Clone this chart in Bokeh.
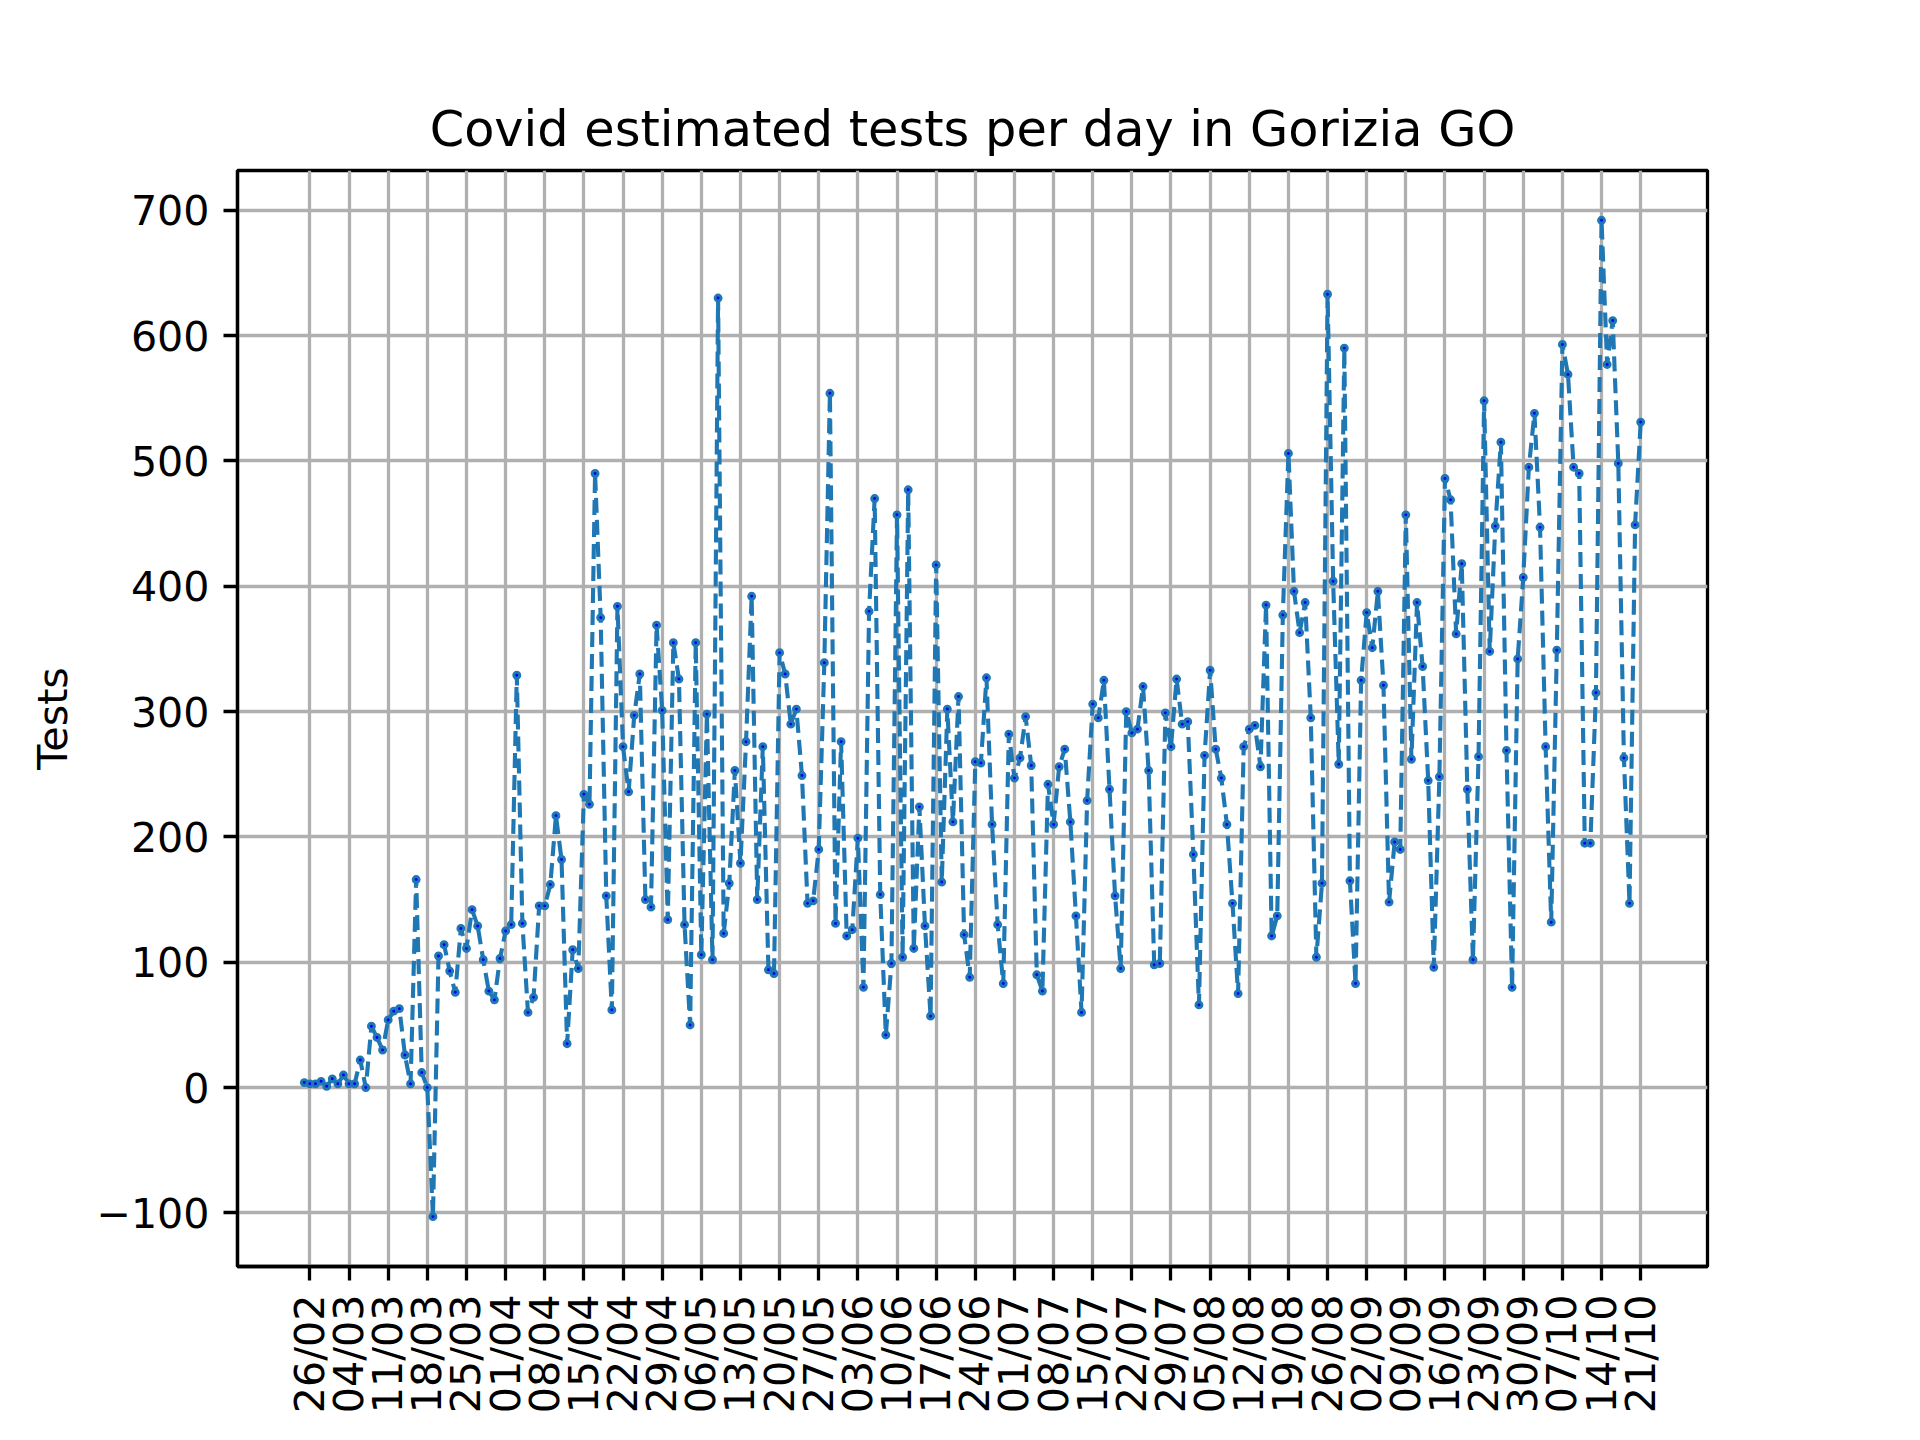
import pandas as pd
from bokeh.plotting import figure
from bokeh.models import Range1d, FixedTicker, DatetimeTickFormatter, CustomJSTickFormatter
from bokeh.embed import file_html
from bokeh.resources import INLINE
import math

# daily estimated tests, first value is 25/02/2020
first_day = "2020-02-25"
tests = [
    4, 3, 3, 5, 1, 7, 3, 10, 3, 3, 22, 0, 49, 40, 30, 54, 61, 63, 26, 3, 166, 12, 0, -103, 105, 114,
    93, 76, 127, 111, 142, 129, 102, 77, 70, 103, 125, 130, 329, 131, 60, 72, 145, 145, 162, 217, 182, 35, 110, 95,
    234, 226, 490, 375, 153, 62, 384, 272, 236, 297, 330, 150, 144, 369, 301, 134, 355, 326, 130, 50, 355, 106, 298, 102,
    630, 123, 163, 253, 179, 276, 392, 150, 272, 94, 91, 347, 330, 290, 302, 249, 147, 149, 190, 339, 554, 131, 276, 121, 126,
    199, 80, 380, 470, 154, 42, 99, 457, 104, 477, 111, 224, 129, 57, 417, 164, 302, 212, 312, 122, 88, 260, 259, 327,
    210, 130, 83, 282, 247, 263, 296, 257, 90, 77, 242, 210, 256, 270, 212, 137, 60, 229, 306, 295, 325, 238, 153, 95,
    300, 283, 286, 320, 253, 98, 99, 299, 272, 326, 290, 292, 186, 66, 265, 333, 270, 247, 210, 147, 75, 272, 286, 289,
    256, 385, 121, 137, 377, 506, 396, 363, 387, 295, 104, 163, 633, 404, 258, 590, 165, 83, 325, 379, 351, 396, 321, 148,
    196, 190, 457, 262, 387, 336, 245, 96, 248, 486, 469, 362, 418, 238, 102, 264, 548, 348, 448, 515, 269, 80, 342, 407,
    495, 538, 447, 272, 132, 349, 593, 569, 495, 490, 195, 195, 315, 692, 577, 612, 498, 263, 147, 449, 531,
]
first_tick = "2020-02-26"
last_tick = "2020-10-21"
y_ticks = [-100, 0, 100, 200, 300, 400, 500, 600, 700]

S = 0.988  # shrink the 1920x1440 figure so it fits the window
PX = 300 / 72 * S  # points -> pixels

dates = pd.date_range(first_day, periods=len(tests), freq="D")
tick_dates = pd.date_range(first_tick, last_tick, freq="7D")
tick_ms = [int(d.value // 10**6) for d in tick_dates]

span = dates[-1] - dates[0]
ypad = 0.05 * (max(tests) - min(tests))

p = figure(width=int(1920 * S), height=int(1440 * S), x_axis_type="datetime",
           output_backend="svg", toolbar_location=None,
           title="Covid estimated tests per day in Gorizia GO",
           x_range=Range1d(dates[0] - 0.05 * span, dates[-1] + 0.05 * span),
           y_range=Range1d(min(tests) - ypad, max(tests) + ypad),
           min_border_left=int(240 * S), min_border_right=int(192 * S),
           min_border_top=int(173 * S), min_border_bottom=int(158 * S))

p.line(dates, tests, line_color="#1f77b4", line_width=1.0 * PX,
       line_dash=f"{3.7 * PX:.0f} {1.6 * PX:.0f}")
p.scatter(dates, tests, size=6 * S, fill_color="#0000ff", line_color="#1f77b4", line_width=3 * S)

# ticks and grid
p.xaxis.ticker = FixedTicker(ticks=tick_ms)
p.xaxis.formatter = DatetimeTickFormatter(days="%d/%m", months="%d/%m", years="%d/%m",
                                          hours="%d/%m", milliseconds="%d/%m", seconds="%d/%m",
                                          minsec="%d/%m", minutes="%d/%m", hourmin="%d/%m")
p.xaxis.major_label_orientation = math.pi / 2
p.yaxis.ticker = FixedTicker(ticks=y_ticks)
p.yaxis.formatter = CustomJSTickFormatter(code="return tick < 0 ? '\u2212' + Math.abs(tick) : String(tick);")
p.yaxis.axis_label = "Tests"

for ax in (p.xaxis, p.yaxis):
    ax.axis_line_width = 0.8 * PX
    ax.major_tick_line_width = 0.8 * PX
    ax.major_tick_out = int(round(3.5 * PX))
    ax.major_tick_in = 0
    ax.minor_tick_out = 0
    ax.minor_tick_in = 0
    ax.major_label_standoff = int(round(3.5 * PX))
    ax.major_label_text_font = "DejaVu Sans"
    ax.major_label_text_font_size = f"{10 * PX:.1f}px"
    ax.major_label_text_color = "black"
    ax.axis_label_text_font = "DejaVu Sans"
    ax.axis_label_text_font_size = f"{10 * PX:.1f}px"
    ax.axis_label_text_font_style = "normal"
    ax.axis_label_text_color = "black"
    ax.axis_label_standoff = int(round(4 * PX))

p.grid.grid_line_color = "#b0b0b0"
p.grid.grid_line_width = 0.8 * PX

p.outline_line_color = "black"
p.outline_line_width = 0.8 * PX

p.title.align = "center"
p.title.text_font = "DejaVu Sans"
p.title.text_font_style = "normal"
p.title.text_color = "black"
p.title.text_font_size = f"{12 * PX:.1f}px"
p.title.standoff = int(round(6 * PX))

p.background_fill_color = "white"
p.border_fill_color = "white"

open("out.html", "w").write(file_html(p, INLINE))
